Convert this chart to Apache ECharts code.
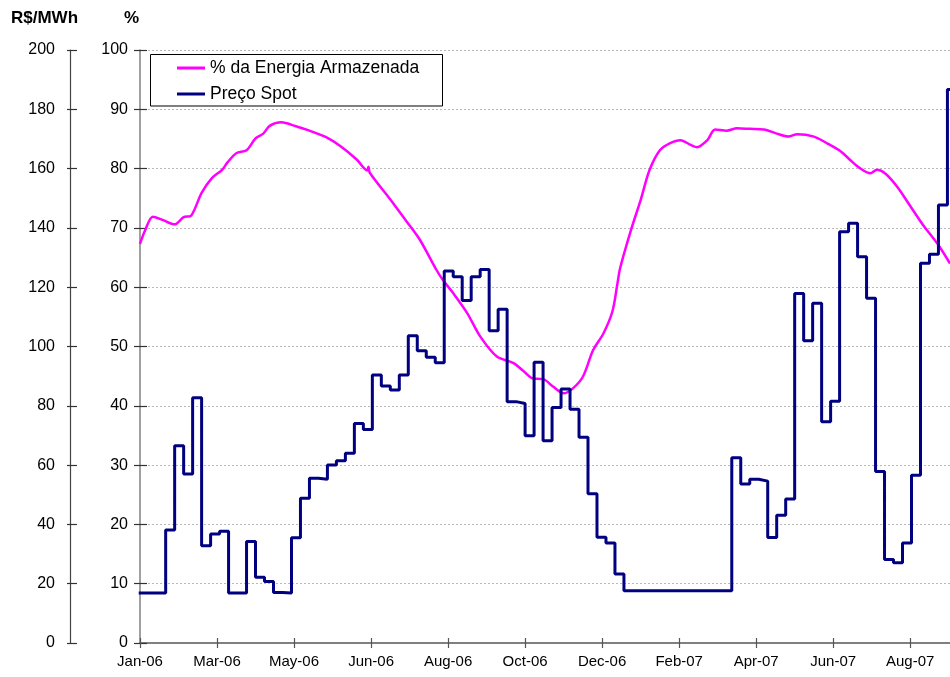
<!DOCTYPE html>
<html><head><meta charset="utf-8">
<script src="https://cdn.jsdelivr.net/npm/echarts@6/dist/echarts.min.js"></script>
<style>html,body{margin:0;padding:0;background:#fff}#c{width:950px;height:677px}</style>
</head><body><div id="c"></div>
<script>
// x axis: days since 2006-01-01
const xTickDays = [0, 60, 120, 180, 240, 300, 360, 420, 480, 540, 600];
const xTickLabels = ['Jan-06','Mar-06','May-06','Jun-06','Aug-06','Oct-06','Dec-06','Feb-07','Apr-07','Jun-07','Aug-07'];
const xMaxDay = 631;

// Weekly spot price (R$/MWh); first week starts Sat 2005-12-31 (day -1)
const spotFirstWeekDay = -1;
const spotPrice = [
  16.9, 16.9, 16.9, 38.1, 66.5, 57.0, 82.7, 32.8, 36.8, 37.7,
  16.9, 16.9, 34.2, 22.2, 20.7, 17.0, 16.9, 35.5, 48.8, 55.6,
  55.2, 60.0, 61.5, 64.0, 74.0, 72.0, 90.4, 86.7, 85.3, 90.4,
  103.6, 98.6, 96.4, 94.5, 125.5, 123.5, 115.5, 123.5, 126.0, 105.3,
  112.6, 81.4, 80.8, 69.9, 94.7, 68.2, 79.4, 85.7, 78.8, 69.4,
  50.3, 35.7, 33.7, 23.3,
  17.6, 17.6, 17.6, 17.6, 17.6, 17.6, 17.6, 17.6, 17.6, 17.6, 17.6, 17.6,
  62.5, 53.6, 55.2, 54.6, 35.6, 43.1, 48.6, 117.9, 101.9, 114.6,
  74.6, 81.5, 138.7, 141.6, 130.3, 116.3, 57.8, 28.2, 27.1, 33.7,
  56.6, 128.1, 131.1, 147.7, 186.7
];

// Stored energy (%) samples
const storageDays = [0, 4, 10, 18, 27, 34, 40, 48, 56, 64, 68, 75, 83, 90, 96, 101, 110, 122, 132, 145,
  156, 169, 177, 178, 179, 195, 208, 218, 231, 236, 244, 255, 265, 278, 291, 298, 306, 314, 322, 330,
  337, 345, 353, 361, 368, 372, 374, 382, 390, 397, 405, 413, 421, 429, 434, 442, 448, 457, 465, 475,
  486, 496, 505, 512, 525, 535, 546, 553, 560, 569, 574, 581, 590, 600, 610, 621, 631];
const storagePct = [67.3, 69.6, 71.9, 71.3, 70.6, 71.8, 72.1, 75.9, 78.4, 79.8, 81.0, 82.6, 83.1, 85.1, 85.9, 87.2, 87.8, 87.1, 86.4, 85.3,
  83.8, 81.5, 79.7, 80.3, 79.3, 74.8, 71.0, 68.0, 62.9, 61.2, 59.0, 55.6, 51.7, 48.3, 47.2, 46.0, 44.6, 44.5, 43.2, 42.1,
  42.9, 44.9, 49.4, 52.2, 55.9, 60.7, 63.2, 69.3, 74.7, 79.8, 83.1, 84.3, 84.8, 84.0, 83.6, 84.8, 86.6, 86.4, 86.8, 86.7,
  86.6, 85.9, 85.4, 85.8, 85.4, 84.3, 82.9, 81.5, 80.2, 79.2, 79.8, 79.1, 76.9, 73.7, 70.5, 67.4, 64.0];

const seriesNames = ['% da Energia Armazenada', 'Preço Spot'];

const spotData = spotPrice.map((v, k) => [spotFirstWeekDay + 7 * k, v]);
spotData.push([spotFirstWeekDay + 7 * spotPrice.length, spotPrice[spotPrice.length - 1]]);
const storageData = storageDays.map((d, i) => [d, storagePct[i]]);

const FONT = '"Liberation Sans", Arial, sans-serif';
const chart = echarts.init(document.getElementById('c'), null, {renderer: 'canvas'});

function yAx(opts) {
  return Object.assign({
    type: 'value', position: 'left', splitLine: {show: false},
    axisLabel: {show: false}, axisLine: {show: false, onZero: false}, axisTick: {show: false}
  }, opts);
}

chart.setOption({
  animation: false,
  backgroundColor: '#fff',
  grid: {left: 140, right: 0, top: 50, bottom: 34, containLabel: false},
  xAxis: [
    {
      type: 'value', position: 'bottom', min: 0, max: xMaxDay,
      axisLine: {show: true, onZero: false, lineStyle: {color: '#808080', width: 2}},
      axisTick: {show: true, customValues: xTickDays, length: 5, lineStyle: {color: '#555', width: 1.2}},
      axisLabel: {show: true, customValues: xTickDays, margin: 11, fontSize: 15, fontFamily: FONT, color: '#000',
        formatter: v => { const i = xTickDays.indexOf(Math.round(v)); return i >= 0 ? xTickLabels[i] : ''; }},
      splitLine: {show: false}
    },
    {
      type: 'value', position: 'bottom', min: 0, max: xMaxDay,
      axisLine: {show: false, onZero: false},
      axisTick: {show: true, inside: true, customValues: xTickDays, length: 5, lineStyle: {color: '#555', width: 1.2}},
      axisLabel: {show: false}, splitLine: {show: false}
    }
  ],
  yAxis: [
    yAx({min: 0, max: 100, interval: 10, offset: 0,
      axisLine: {show: true, onZero: false, lineStyle: {color: '#808080', width: 1.5}},
      axisTick: {show: true, length: 6, lineStyle: {color: '#333', width: 1.2}},
      axisLabel: {show: true, margin: 12, fontSize: 16, fontFamily: FONT, color: '#000'},
      splitLine: {show: true, lineStyle: {color: '#b8b8b8', type: [2, 2], width: 1}}}),
    yAx({min: 0, max: 200, interval: 20, offset: 70,
      axisLine: {show: true, onZero: false, lineStyle: {color: '#444', width: 1.2}},
      axisTick: {show: true, length: 3, lineStyle: {color: '#333', width: 1.2}},
      axisLabel: {show: true, margin: 15, fontSize: 16, fontFamily: FONT, color: '#000'}}),
    yAx({min: 0, max: 100, interval: 10, offset: 0,
      axisTick: {show: true, inside: true, length: 7, lineStyle: {color: '#333', width: 1.2}}}),
    yAx({min: 0, max: 200, interval: 20, offset: 70,
      axisTick: {show: true, inside: true, length: 7, lineStyle: {color: '#333', width: 1.2}}})
  ],
  legend: {
    orient: 'vertical', left: 177, top: 58, padding: 0, itemGap: 6,
    itemWidth: 28, itemHeight: 3, icon: 'rect',
    textStyle: {fontSize: 17.5, fontFamily: FONT, color: '#000', lineHeight: 20},
    data: seriesNames
  },
  graphic: [
    {type: 'rect', z: -1, shape: {x: 150.5, y: 54.5, width: 292, height: 51.5},
      style: {fill: '#fff', stroke: '#000', lineWidth: 1}},
    {type: 'text', left: 11, top: 10, style: {text: 'R$/MWh', font: 'bold 17px ' + FONT, fill: '#000'}},
    {type: 'text', left: 124, top: 10, style: {text: '%', font: 'bold 17px ' + FONT, fill: '#000'}}
  ],
  series: [
    {
      name: seriesNames[0], type: 'line', xAxisIndex: 0, yAxisIndex: 0,
      data: storageData, showSymbol: false, smooth: 0.3, z: 2,
      itemStyle: {color: '#FF00FF'},
      lineStyle: {color: '#FF00FF', width: 2.5}
    },
    {
      name: seriesNames[1], type: 'line', xAxisIndex: 0, yAxisIndex: 1,
      data: spotData, step: 'end', showSymbol: false, z: 3,
      itemStyle: {color: '#000080'},
      lineStyle: {color: '#000080', width: 3}
    }
  ]
});
</script></body></html>
